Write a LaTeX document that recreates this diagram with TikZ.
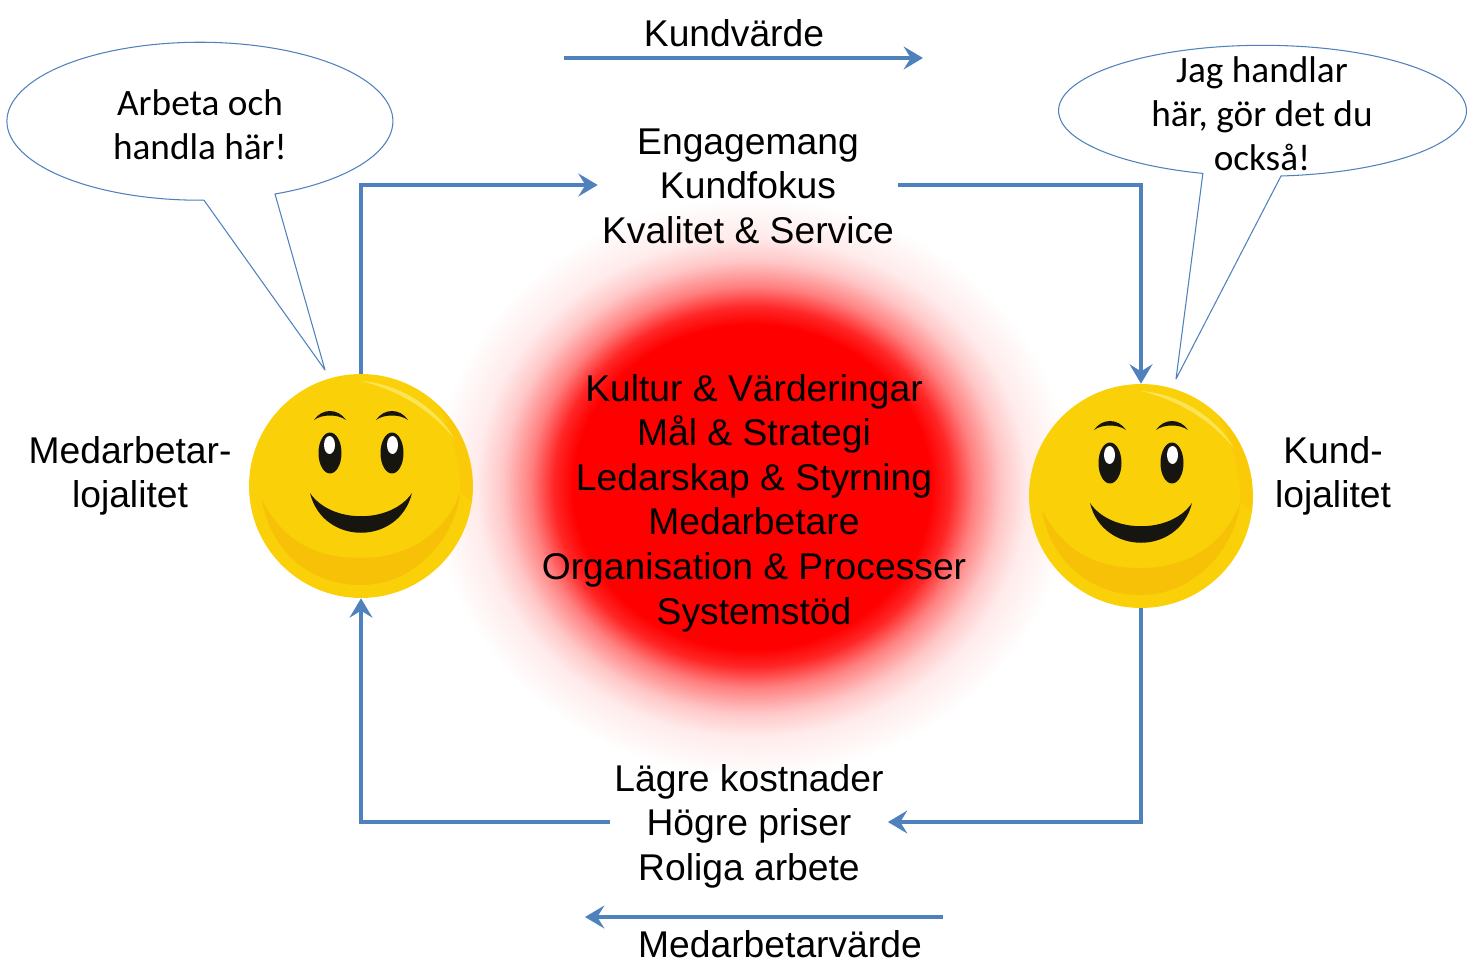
\documentclass[tikz,border=0pt]{standalone}
\usepackage{fontspec}
\setmainfont{Liberation Sans}
\newfontfamily\bubblefont{Carlito}
\usepackage{tikz}
\usetikzlibrary{shapes, arrows, arrows.meta, calc, fit}
\definecolor{flowblue}{HTML}{4F81BD}
\definecolor{faceyellow}{HTML}{FAD009}
\definecolor{facedark}{HTML}{F7C108}
\definecolor{facerim}{HTML}{FACA08}
\definecolor{faceglint}{HTML}{FDE455}
\definecolor{faceink}{HTML}{17150F}
\pgfdeclareradialshading{redglow}{\pgfpoint{0bp}{0bp}}{color(0bp)=(red); color(14bp)=(red); color(15.5bp)=(red!85!white); color(17.3bp)=(red!50!white); color(19.5bp)=(red!22!white); color(21.5bp)=(red!8!white); color(25bp)=(white); color(50bp)=(white)}
\tikzstyle{flowtext} = [align=center, inner sep=0.08cm, font=\fontsize{21.2}{25.4}\selectfont]
\tikzstyle{bubbletext} = [align=center, inner sep=0pt, font=\bubblefont\fontsize{21.2}{25}\selectfont]
\tikzstyle{face} = [circle, fill=faceyellow, minimum size=4.48cm, inner sep=0pt]
\tikzstyle{bubble} = [draw=flowblue, line width=0.6pt, fill=white, line join=round]
\tikzstyle{line} = [draw=flowblue, line width=2.4pt, -{Stealth[length=11pt, width=13pt, inset=4pt]}]
% face details, drawn relative to the centre of a face node
\newcommand{\facedetails}[1]{%
  \begin{scope}[shift={(#1)}]
    \fill [facedark] (-99,14) .. controls (-75,60) and (-40,72) .. (0,72) .. controls (50,72) and (85,45) .. (99,7)
      .. controls (95,50) and (55,99) .. (0,99) .. controls (-55,99) and (-92,60) .. cycle;
    \fill [facerim] (78,-80) .. controls (105,-55) and (113,-20) .. (111,15) -- (99,7) .. controls (100,-25) and (90,-55) .. cycle;
    \fill [faceglint] (0,-105) .. controls (40,-102) and (75,-78) .. (93,-48) .. controls (70,-75) and (40,-95) .. cycle;
    \foreach \side in {-1,1} {
      \fill [faceink] (\side*31,-33) ellipse [x radius=0.23cm, y radius=0.41cm];
      \fill [white] (\side*31.5,-41) ellipse [x radius=0.11cm, y radius=0.18cm];
      \fill [faceink] ($(\side*31,0)+(-16,-66)$) .. controls ($(\side*31,0)+(-8,-78)$) and ($(\side*31,0)+(8,-78)$) .. ($(\side*31,0)+(16,-66)$)
        .. controls ($(\side*31,0)+(8,-72)$) and ($(\side*31,0)+(-8,-72)$) .. cycle;
    }
    \fill [faceink] (-51,7) .. controls (-38,60) and (38,60) .. (51,7) .. controls (30,38) and (-30,38) .. cycle;
  \end{scope}
}

\begin{document}
\begin{tikzpicture}[x=0.02cm, y=-0.02cm]
    \useasboundingbox (0,0) rectangle (1475,973);
    % Glow
    \shade [shading=redglow] (752,487) ellipse [x radius=6.4cm, y radius=5.8cm];
    % Bubbles
    \path [bubble] (275,194) arc [start angle=-67.1, end angle=271.2, x radius=3.86cm, y radius=1.58cm] -- (325,370) -- cycle;
    \path [bubble] (1281,176) arc [start angle=-84.8, end angle=253, x radius=4.08cm, y radius=1.31cm] -- (1176,379) -- cycle;
    % Nodes
    \node [face] (medFace) at (361,486) {};
    \node [face] (kundFace) at (1141,496) {};
    \facedetails{361,486}
    \facedetails{1141,496}
    \node [flowtext] (engage) at (748,186) {Engagemang\\Kundfokus\\Kvalitet \& Service};
    \node [flowtext] (culture) at (754,503) {Kultur \& Värderingar\\Mål \& Strategi\\Ledarskap \& Styrning\\Medarbetare\\Organisation \& Processer\\Systemstöd};
    \node [flowtext] (lower) at (749,826) {Lägre kostnader\\Högre priser\\Roliga arbete};
    \node [flowtext] (medLabel) at (130,476) {Medarbetar-\\lojalitet};
    \node [flowtext] (kundLabel) at (1333,476) {Kund-\\lojalitet};
    \node [flowtext] (kundValue) at (734,33) {Kundvärde};
    \node [flowtext] (medValue) at (780,944) {Medarbetarvärde};
    \node [bubbletext] (medSays) at (200,125) {Arbeta och\\handla här!};
    \node [bubbletext] (kundSays) at (1262,114) {Jag handlar\\här, gör det du\\också!};
    \coordinate (kundStart) at (564,58);
    \coordinate (kundEnd) at (923,58);
    \coordinate (medStart) at (943,917);
    \coordinate (medEnd) at (585,917);
    % Edges
    \path [line] (medFace.north) |- ([yshift=0.02cm]engage.west);
    \path [line] ([yshift=0.02cm]engage.east) -| (kundFace.north);
    \path [line] (kundFace.south) |- ([yshift=0.08cm]lower.east);
    \path [line] ([yshift=0.08cm]lower.west) -| (medFace.south);
    \path [line] (kundStart) -- (kundEnd);
    \path [line] (medStart) -- (medEnd);
\end{tikzpicture}
\end{document}
